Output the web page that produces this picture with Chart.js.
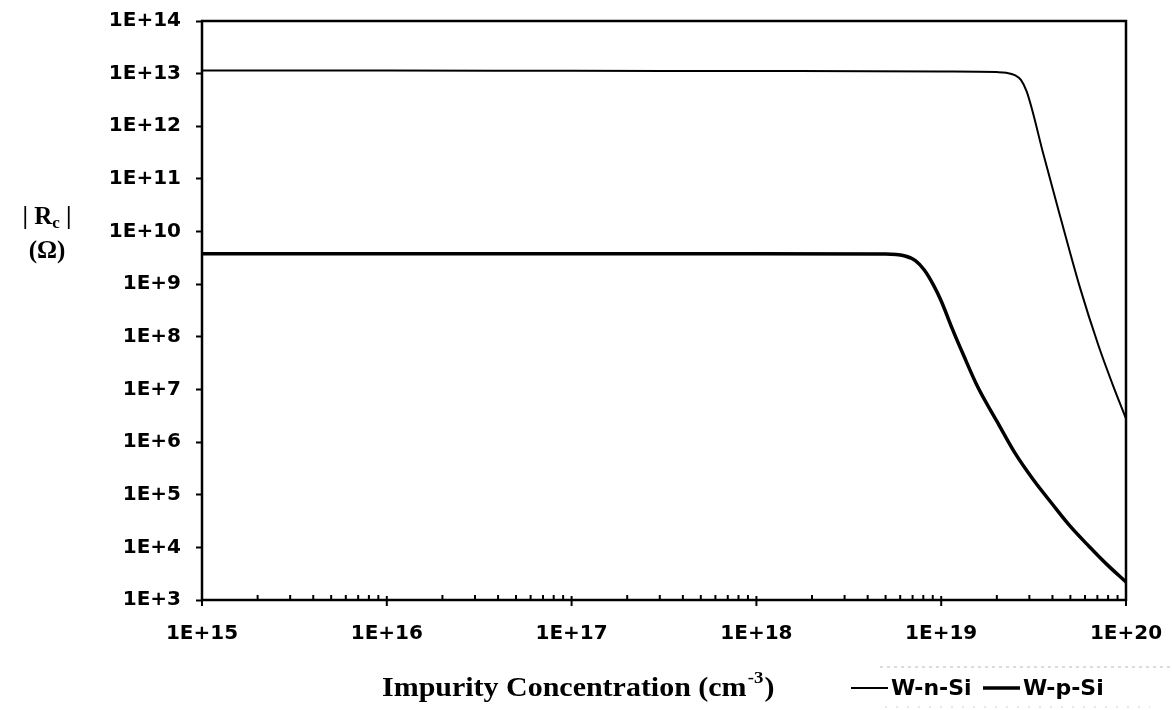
<!DOCTYPE html>
<html>
<head>
<meta charset="utf-8">
<script src="https://cdn.jsdelivr.net/npm/chart.js@4.4.0/dist/chart.umd.min.js"></script>
<style>
  html, body { margin: 0; padding: 0; background: #fff; }
  #wrap { width: 1172px; height: 710px; }
</style>
</head>
<body>
<div id="wrap"><canvas id="chart" width="1172" height="710"></canvas></div>
<script>
// ── Values (impurity concentration in cm^-3, |Rc| in ohm) ──
const nSiConc = [1e15, 1e16, 1e17, 1e18, 1e19, 2e19, 2.25e19, 2.5e19, 2.7e19, 2.9e19, 3.1e19, 3.55e19, 4.47e19, 5.62e19, 7.08e19, 8.5e19, 1e20];
const nSiRc   = [1.15e13, 1.15e13, 1.13e13, 1.12e13, 1.1e13, 1.07e13, 1.04e13, 9.4e12, 7.6e12, 4.6e12, 2.1e12, 3.2e11, 1.6e10, 8.9e8, 7e7, 1.2e7, 2.8e6];

const pSiConc = [1e15, 1e16, 1e17, 1e18, 5e18, 6.3e18, 7.25e18, 8.1e18, 9.1e18, 1e19, 1.15e19, 1.32e19, 1.58e19, 2e19, 2.5e19, 3.16e19, 4e19, 5e19, 6.3e19, 7.9e19, 1e20];
const pSiRc   = [3.8e9, 3.8e9, 3.8e9, 3.8e9, 3.76e9, 3.47e9, 2.8e9, 1.86e9, 9.5e8, 4.8e8, 1.4e8, 4.5e7, 1.1e7, 2.5e6, 6.3e5, 1.9e5, 6.6e4, 2.5e4, 1.05e4, 4.7e3, 2.2e3];

const seriesNames = ['W-n-Si', 'W-p-Si'];
const xDecades = [15, 16, 17, 18, 19, 20];
const yDecades = [3, 4, 5, 6, 7, 8, 9, 10, 11, 12, 13, 14];
const minorSteps = [2, 3, 4, 5, 6, 7, 8, 9];

const TICK_FONT = { family: '"DejaVu Sans", sans-serif', size: 20, weight: 'bold' };
const TITLE_FONT = 'bold 27px "Liberation Serif", "Times New Roman", serif';

const toPoints = (xs, ys) => xs.map((x, i) => ({ x, y: ys[i] }));
const isDecade = v => Math.abs(Math.log10(v) - Math.round(Math.log10(v))) < 1e-6;
const expLabel = v => '1E+' + Math.round(Math.log10(v));

// x ticks: decades plus 2..9 minors (minors carry no label)
const xTickValues = [];
xDecades.forEach((d, i) => {
  xTickValues.push(Number('1e' + d));
  if (i < xDecades.length - 1) minorSteps.forEach(m => xTickValues.push(m * Number('1e' + d)));
});

// keep the plot box exactly where the layout padding puts it
const noScalePadding = s => { s.paddingTop = 0; s.paddingBottom = 0; s.paddingLeft = 0; s.paddingRight = 0; };

// ── Frame, x tick marks, axis titles and legend ──
const decorPlugin = {
  id: 'decor',
  afterDatasetsDraw(chart) {
    const { ctx, chartArea: a, scales } = chart;
    ctx.save();
    ctx.strokeStyle = '#000';
    ctx.lineWidth = 2.5;
    ctx.strokeRect(a.left, a.top, a.right - a.left, a.bottom - a.top);

    // x tick marks: majors cross the axis, minors point inward
    ctx.lineWidth = 2;
    scales.x.ticks.forEach(t => {
      const px = scales.x.getPixelForValue(t.value);
      ctx.beginPath();
      if (isDecade(t.value)) {
        ctx.moveTo(px, a.bottom - 4);
        ctx.lineTo(px, a.bottom + 6);
      } else {
        ctx.moveTo(px, a.bottom);
        ctx.lineTo(px, a.bottom - 5);
      }
      ctx.stroke();
    });
    ctx.restore();
  },
  afterDraw(chart) {
    const { ctx } = chart;
    ctx.save();
    ctx.fillStyle = '#000';
    ctx.textBaseline = 'middle';

    // y title: | Rc | over (Ω)
    const yFont = 'bold 25px "Liberation Serif", serif';
    const subFont = 'bold 17px "Liberation Serif", serif';
    ctx.save();
    ctx.translate(47, 218);
    ctx.textAlign = 'left';
    ctx.font = yFont;
    const wA = ctx.measureText('| R').width, wB = ctx.measureText(' |').width;
    ctx.font = subFont;
    const wC = ctx.measureText('c').width;
    const x0 = -(wA + wC + wB) / 2;
    ctx.font = yFont;
    ctx.fillText('| R', x0, 0);
    ctx.font = subFont;
    ctx.fillText('c', x0 + wA, 6);
    ctx.font = yFont;
    ctx.fillText(' |', x0 + wA + wC, 0);
    ctx.textAlign = 'center';
    ctx.fillText('(Ω)', 0, 34);
    ctx.restore();

    // x title with superscript -3
    ctx.save();
    ctx.translate(382, 689);
    ctx.scale(1.11, 1);
    ctx.textAlign = 'left';
    ctx.font = TITLE_FONT;
    const main = 'Impurity Concentration (cm';
    const wMain = ctx.measureText(main).width;
    ctx.fillText(main, 0, 0);
    ctx.font = 'bold 17px "Liberation Serif", serif';
    const wSup = ctx.measureText('-3').width;
    ctx.fillText('-3', wMain + 1, -10);
    ctx.font = TITLE_FONT;
    ctx.fillText(')', wMain + wSup + 2, 0);
    ctx.restore();

    // legend
    const ly = 688;
    const items = [
      { ds: chart.data.datasets[0], x1: 851, x2: 888, tx: 891 },
      { ds: chart.data.datasets[1], x1: 983, x2: 1020, tx: 1023 }
    ];
    ctx.font = 'bold 22px "DejaVu Sans", sans-serif';
    ctx.textAlign = 'left';
    items.forEach(it => {
      ctx.strokeStyle = it.ds.borderColor;
      ctx.lineWidth = it.ds.borderWidth;
      ctx.beginPath();
      ctx.moveTo(it.x1, ly);
      ctx.lineTo(it.x2, ly);
      ctx.stroke();
      ctx.fillText(it.ds.label, it.tx, ly + 1);
    });

    // faint remnants of the legend box border
    ctx.strokeStyle = '#b8b8b8';
    ctx.lineWidth = 1;
    ctx.setLineDash([3, 4]);
    ctx.beginPath();
    ctx.moveTo(880, 667);
    ctx.lineTo(1172, 667);
    ctx.stroke();
    ctx.strokeStyle = '#d0d0d0';
    ctx.setLineDash([2, 9]);
    ctx.beginPath();
    ctx.moveTo(885, 707);
    ctx.lineTo(1150, 707);
    ctx.stroke();
    ctx.restore();
  }
};

new Chart(document.getElementById('chart'), {
  type: 'line',
  data: {
    datasets: [
      {
        label: seriesNames[0],
        data: toPoints(nSiConc, nSiRc),
        borderColor: '#000',
        borderWidth: 2,
        pointRadius: 0,
        cubicInterpolationMode: 'monotone'
      },
      {
        label: seriesNames[1],
        data: toPoints(pSiConc, pSiRc),
        borderColor: '#000',
        borderWidth: 3.5,
        pointRadius: 0,
        cubicInterpolationMode: 'monotone'
      }
    ]
  },
  options: {
    responsive: false,
    animation: false,
    devicePixelRatio: 1,
    layout: { padding: { top: 21, right: 46, bottom: 0, left: 0 } },
    plugins: {
      legend: { display: false },
      tooltip: { enabled: false }
    },
    scales: {
      x: {
        type: 'logarithmic',
        min: 1e15,
        max: 1e20,
        afterBuildTicks: s => { s.ticks = xTickValues.map(v => ({ value: v })); },
        afterFit: s => { s.height = 110; noScalePadding(s); },
        grid: { display: false },
        border: { display: false },
        ticks: {
          autoSkip: false,
          maxRotation: 0,
          padding: 14,
          color: '#000',
          font: TICK_FONT,
          callback: v => isDecade(v) ? expLabel(v) : ''
        }
      },
      y: {
        type: 'logarithmic',
        min: 1e3,
        max: 1e14,
        afterBuildTicks: s => { s.ticks = yDecades.map(e => ({ value: Number('1e' + e) })); },
        afterFit: s => { s.width = 202; noScalePadding(s); },
        grid: {
          drawOnChartArea: false,
          drawTicks: true,
          tickLength: 6,
          tickColor: '#000',
          tickWidth: 2
        },
        border: { display: false },
        ticks: {
          padding: 15,
          color: '#000',
          font: TICK_FONT,
          callback: v => expLabel(v)
        }
      }
    }
  },
  plugins: [decorPlugin]
});
</script>
</body>
</html>
